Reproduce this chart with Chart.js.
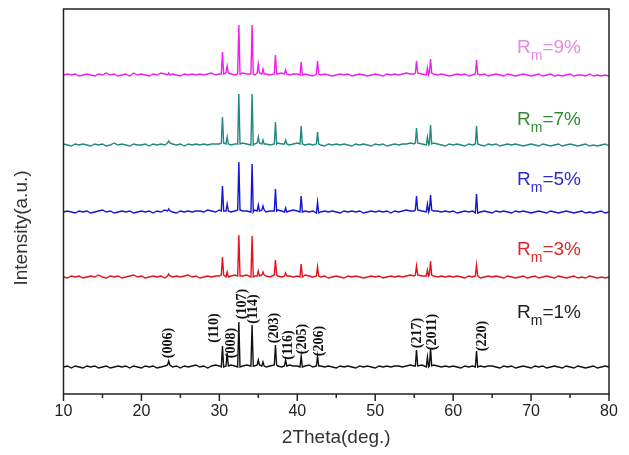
<!DOCTYPE html>
<html><head><meta charset="utf-8">
<script src="https://cdn.jsdelivr.net/npm/chart.js@4/dist/chart.umd.min.js"></script>
<style>html,body{margin:0;padding:0;background:#fff}</style>
</head><body>
<canvas id="c" width="629" height="455"></canvas>
<script>
// ---- data ----
const gridStart = 10, gridStep = 0.5;      // scan sampling of the baseline
const seriesNames = ['1%', '3%', '5%', '7%', '9%'];
const offsets = [27, 117, 182, 249, 319];   // vertical stacking offset of each pattern
const peakAngles = [23.5, 30.4, 31.0, 32.5, 34.2, 35.0, 35.6, 37.2, 38.5, 40.5, 42.6, 55.3, 56.7, 57.1, 63.0];
const peaks1 = [4, 21, 13, 45, 41, 5, 4, 20, 6, 11, 10, 16, 10, 18, 16];
const peaks3 = [2, 18, 5, 41, 41, 5, 3, 15, 3, 13, 9, 9, 6, 14, 11];
const peaks5 = [2, 25, 7, 48, 48, 6, 4, 22, 4, 16, 11, 14, 8, 15, 19];
const peaks7 = [2, 26, 7, 50, 51, 6, 4, 22, 4, 18, 12, 15, 8, 19, 18];
const peaks9 = [2, 22, 7, 49, 49, 9, 5, 19, 4, 13, 13, 12, 7, 14, 14];
const noise1 = [0,1,-1,1,0,-1,1,0,1,-1,0,1,-1,0,1,0,1,-1,1,0,
 -1,1,0,1,-1,0,1,2,0,1,-1,1,0,1,2,0,1,-1,1,2,
 1,0,1,2,1,0,1,2,1,1,2,1,0,1,2,1,0,1,2,1,
 1,0,1,2,0,1,1,0,1,0,-1,1,0,1,0,-1,1,0,1,0,
 -1,1,0,1,0,1,1,0,1,2,1,1,2,0,1,2,1,0,1,0,
 1,0,-1,1,0,1,0,1,0,1,1,0,-1,1,0,1,-1,0,1,0,
 -1,1,0,1,-1,0,1,0,-1,1,0,-1,1,0,-1,0,1,-1,0,1,0];
const noise3 = [0,-1,1,0,1,-1,0,1,0,2,0,-1,1,0,1,-1,0,1,2,0,
 1,-1,0,1,0,1,-1,1,0,1,0,1,2,0,1,-1,0,1,0,1,
 1,2,0,1,2,1,1,2,0,1,1,2,1,0,2,1,0,1,1,0,
 1,0,2,1,0,1,0,1,-1,0,1,0,-1,1,0,1,0,-1,0,1,
 0,1,-1,0,1,0,1,0,1,2,1,2,1,1,2,1,0,1,0,1,
 0,1,0,-1,1,0,1,-1,0,1,0,1,0,-1,1,0,-1,0,1,-1,
 0,1,-1,0,1,0,-1,1,0,-1,0,1,-1,0,-1,1,0,-1,0,-1,0];
const noise5 = [0,1,0,-1,1,0,1,-1,0,1,2,0,1,-1,0,1,0,1,-1,0,
 1,0,1,-1,1,0,2,1,0,-1,1,0,1,0,1,1,0,2,1,0,
 2,1,1,0,1,2,1,1,0,2,1,2,0,1,1,2,1,0,1,2,
 1,0,1,0,1,-1,0,1,0,1,0,-1,1,0,1,0,1,-1,0,1,
 0,1,0,1,-1,1,0,1,2,1,1,2,1,0,2,1,1,0,1,0,
 1,-1,0,1,0,1,-1,0,1,0,-1,1,0,1,0,-1,1,0,1,0,
 -1,0,1,0,-1,1,0,-1,0,1,0,-1,0,1,-1,0,-1,0,1,-1,0];
const noise7 = [1,0,-1,1,0,1,0,-1,1,0,1,-1,0,2,0,1,0,-1,1,0,
 0,1,-1,1,0,1,0,2,1,0,1,-1,1,0,1,0,1,0,1,1,
 1,2,1,0,1,1,2,1,0,1,2,1,1,0,1,2,1,1,0,1,
 2,1,0,1,0,1,0,-1,1,0,1,0,1,0,-1,1,0,1,0,-1,
 1,0,1,-1,0,1,0,1,1,2,1,2,1,0,1,2,1,0,-1,1,
 0,1,0,-1,1,0,1,0,-1,1,0,1,-1,0,1,0,1,0,-1,0,
 1,0,-1,1,0,-1,0,1,-1,0,1,0,-1,0,1,-1,0,-1,0,1,-1];
const noise9 = [0,1,0,1,-1,0,1,0,-1,1,0,2,0,1,-1,0,1,-1,2,0,
 1,0,-1,1,0,2,1,0,1,0,-1,1,0,1,0,1,0,1,2,0,
 1,1,2,1,0,1,2,1,1,0,2,1,1,0,1,1,2,1,0,1,
 1,0,1,0,-1,1,0,1,0,-1,0,1,0,1,-1,0,1,0,-1,0,
 1,0,-1,1,0,1,0,1,2,1,1,2,1,0,2,1,0,1,0,-1,
 0,1,0,1,-1,0,1,0,1,-1,0,1,0,-1,1,0,-1,0,1,0,
 -1,0,1,-1,0,1,-1,0,-1,0,1,-1,0,0,-1,1,-1,0,-1,0,-1];
const xTickValues = [10, 20, 30, 40, 50, 60, 70, 80];
const hklLabels = ['(006)','(110)','(008)','(107)','(114)','(203)','(116)','(205)','(206)','(217)','(2011)','(220)'];
const hklAngles = [23.4, 29.4, 31.6, 32.9, 34.4, 37.1, 38.8, 40.7, 42.9, 55.4, 57.4, 63.7];
const hklLevels = [51, 66, 51, 90, 85, 66, 49, 55, 53, 61, 62, 58];
const rmLevels = [81, 144, 214, 274, 346];
const rmAngle = 68.2;

// ---- styles ----
const lineColors = ['#111111', '#e8101a', '#1515d5', '#218a7e', '#f01cf0'];
const labelColors = ['#222222', '#e02828', '#2a2ad0', '#2e8b2e', '#e48ae4'];
const noises = [noise1, noise3, noise5, noise7, noise9];
const peakSets = [peaks1, peaks3, peaks5, peaks7, peaks9];
const SANS = '"Liberation Sans", Arial, sans-serif';

function buildSeries(noise, heights, offset) {
  const pts = [];
  noise.forEach((v, i) => {
    const x = gridStart + i * gridStep;
    if (peakAngles.some(p => Math.abs(p - x) < 0.25)) return;
    pts.push({x: x, y: offset + v});
  });
  peakAngles.forEach((p, j) => {
    const i = Math.round((p - gridStart) / gridStep);
    const b = offset + noise[i];
    pts.push({x: p - 0.15, y: b}, {x: p, y: b + heights[j]}, {x: p + 0.15, y: b});
  });
  pts.sort((a, b) => a.x - b.x);
  return pts;
}

const datasets = seriesNames.map((n, k) => ({
  label: 'Rm=' + n,
  data: buildSeries(noises[k], peakSets[k], offsets[k]),
  borderColor: lineColors[k],
  borderWidth: 1.4,
  pointRadius: 0,
  tension: 0,
  fill: false
}));

const deco = {
  id: 'deco',
  afterDraw(chart) {
    const {ctx, chartArea: a, scales: {x, y}} = chart;
    ctx.save();
    ctx.strokeStyle = '#222';
    ctx.lineWidth = 1.5;
    ctx.strokeRect(a.left, a.top, a.right - a.left, a.bottom - a.top);
    for (let v = 10; v <= 80; v += 5) {
      const px = x.getPixelForValue(v);
      const len = v % 10 === 0 ? 7 : 4;
      ctx.beginPath();
      ctx.moveTo(px, a.bottom);
      ctx.lineTo(px, a.bottom + len);
      ctx.stroke();
    }
    ctx.fillStyle = '#333';
    ctx.font = '19px ' + SANS;
    ctx.textAlign = 'center';
    ctx.textBaseline = 'middle';
    ctx.translate(22, 228);
    ctx.rotate(-Math.PI / 2);
    ctx.fillText('Intensity(a.u.)', 0, 0);
    ctx.restore();

    ctx.save();
    ctx.fillStyle = '#111';
    ctx.font = 'bold 14px "Liberation Serif", "Times New Roman", serif';
    ctx.textAlign = 'center';
    ctx.textBaseline = 'middle';
    hklLabels.forEach((t, i) => {
      ctx.save();
      ctx.translate(x.getPixelForValue(hklAngles[i]), y.getPixelForValue(hklLevels[i]));
      ctx.rotate(-Math.PI / 2);
      ctx.fillText(t, 0, 0);
      ctx.restore();
    });
    ctx.restore();

    ctx.save();
    ctx.textBaseline = 'middle';
    ctx.textAlign = 'left';
    seriesNames.forEach((n, k) => {
      let px = x.getPixelForValue(rmAngle);
      const py = y.getPixelForValue(rmLevels[k]);
      ctx.fillStyle = labelColors[k];
      ctx.font = '19px ' + SANS;
      ctx.fillText('R', px, py);
      px += ctx.measureText('R').width;
      ctx.font = '14px ' + SANS;
      ctx.fillText('m', px, py + 8);
      px += ctx.measureText('m').width;
      ctx.font = '19px ' + SANS;
      ctx.fillText('=' + n, px, py);
    });
    ctx.restore();
  }
};

new Chart(document.getElementById('c'), {
  type: 'line',
  data: {datasets},
  options: {
    responsive: false,
    animation: false,
    devicePixelRatio: 1,
    layout: {padding: {top: 9, right: 20, left: 0, bottom: 0}},
    plugins: {legend: {display: false}, tooltip: {enabled: false}},
    scales: {
      x: {
        type: 'linear', min: 10, max: 80,
        afterBuildTicks: s => { s.ticks = xTickValues.map(v => ({value: v})); },
        afterFit: s => { s.height = 61; },
        grid: {display: false, drawTicks: true, tickLength: 6},
        border: {display: false},
        ticks: {font: {size: 16, family: SANS}, color: '#222', padding: 2, maxRotation: 0},
        title: {display: true, text: '2Theta(deg.)', color: '#333', font: {size: 19, family: SANS}, padding: {top: 0, bottom: 6}}
      },
      y: {
        min: 0, max: 385,
        afterFit: s => { s.width = 63.5; },
        grid: {display: false},
        border: {display: false},
        ticks: {display: false}
      }
    }
  },
  plugins: [deco]
});
</script>
</body></html>
